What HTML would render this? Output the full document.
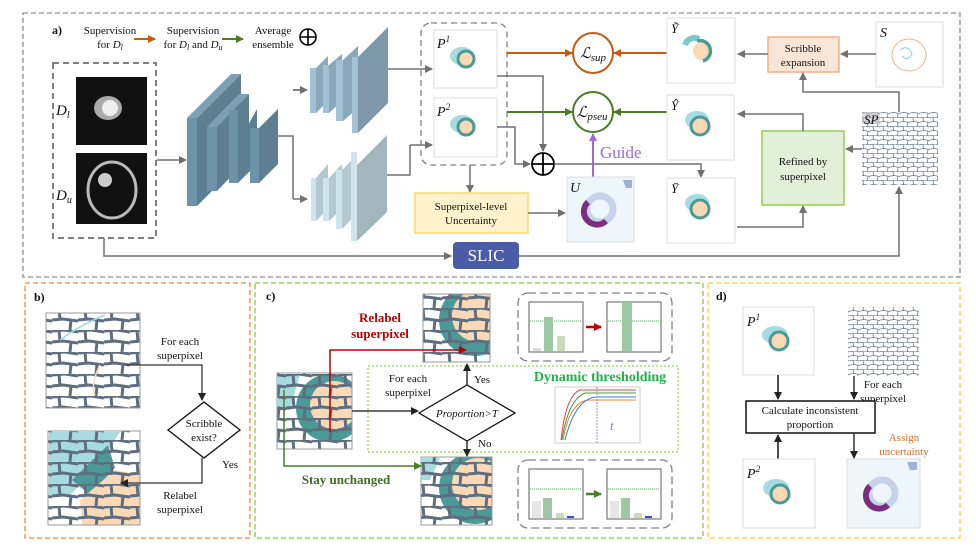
<!DOCTYPE html>
<html><head><meta charset="utf-8"><style>
html,body{margin:0;padding:0;background:#fff}
svg{display:block}
text{font-family:"Liberation Serif",serif;fill:#111}
</style></head><body>
<svg width="976" height="552" viewBox="0 0 976 552" xmlns="http://www.w3.org/2000/svg">
<defs>
<marker id="ag" markerWidth="8" markerHeight="8" refX="7" refY="4" orient="auto" markerUnits="userSpaceOnUse"><path d="M0,0 L8,4 L0,8z" fill="#707070"/></marker>
<marker id="ao" markerWidth="8" markerHeight="8" refX="7" refY="4" orient="auto" markerUnits="userSpaceOnUse"><path d="M0,0 L8,4 L0,8z" fill="#c55a11"/></marker>
<marker id="agr" markerWidth="8" markerHeight="8" refX="7" refY="4" orient="auto" markerUnits="userSpaceOnUse"><path d="M0,0 L8,4 L0,8z" fill="#4a7c2a"/></marker>
<marker id="ak" markerWidth="8" markerHeight="8" refX="7" refY="4" orient="auto" markerUnits="userSpaceOnUse"><path d="M0,0 L8,4 L0,8z" fill="#222"/></marker>
<marker id="ar" markerWidth="8" markerHeight="8" refX="7" refY="4" orient="auto" markerUnits="userSpaceOnUse"><path d="M0,0 L8,4 L0,8z" fill="#c00000"/></marker>
<marker id="ap" markerWidth="8" markerHeight="8" refX="7" refY="4" orient="auto" markerUnits="userSpaceOnUse"><path d="M0,0 L8,4 L0,8z" fill="#9b6bd1"/></marker>
<pattern id="sp" width="10" height="9" patternUnits="userSpaceOnUse">
<path d="M0,0.5 L5,0 L10,1 M0,5 L4,4.5 L10,5.5 M3,0 L3.5,5 M8,5 L7.5,9" stroke="#6a7a8a" stroke-width="0.8" fill="none"/>
</pattern>
<pattern id="spb" width="26" height="22" patternUnits="userSpaceOnUse">
<path d="M0,1 L13,0 L26,2 M0,12 L11,11 L26,13 M7,0 L8,12 M19,12 L18,22" stroke="#5f6e7e" stroke-width="3" fill="none"/>
</pattern>
<clipPath id="cb1"><rect x="48" y="431" width="92" height="94"/></clipPath>
<clipPath id="cc1"><rect x="277" y="373" width="75" height="76"/></clipPath>
<clipPath id="cc2"><rect x="423" y="294" width="67" height="68"/></clipPath>
<clipPath id="cc3"><rect x="421" y="457" width="71" height="68"/></clipPath>
</defs>

<!-- panel borders -->
<rect x="23" y="13" width="937" height="264" fill="none" stroke="#8a8a8a" stroke-width="1.3" stroke-dasharray="5,3"/>
<rect x="25" y="283" width="225" height="255" fill="none" stroke="#f08a3a" stroke-width="1.3" stroke-dasharray="5,3"/>
<rect x="255" y="283" width="448" height="255" fill="none" stroke="#8cc63f" stroke-width="1.3" stroke-dasharray="5,3"/>
<rect x="708" y="283" width="252" height="255" fill="none" stroke="#ffcc33" stroke-width="1.3" stroke-dasharray="5,3"/>

<!-- legend -->
<text x="52" y="34" font-weight="bold" font-size="12">a)</text>
<text x="110" y="34" font-size="11" text-anchor="middle">Supervision</text>
<text x="110" y="48" font-size="11" text-anchor="middle">for <tspan font-style="italic">D<tspan font-size="8" dy="2">l</tspan></tspan></text>
<line x1="134" y1="39" x2="155" y2="39" stroke="#c55a11" stroke-width="2" marker-end="url(#ao)"/>
<text x="193" y="34" font-size="11" text-anchor="middle">Supervision</text>
<text x="193" y="48" font-size="11" text-anchor="middle">for <tspan font-style="italic">D<tspan font-size="8" dy="2">l</tspan></tspan><tspan dy="-2"> and </tspan><tspan font-style="italic">D<tspan font-size="8" dy="2">u</tspan></tspan></text>
<line x1="222" y1="39" x2="243" y2="39" stroke="#4a7c2a" stroke-width="2" marker-end="url(#agr)"/>
<text x="273" y="34" font-size="11" text-anchor="middle">Average</text>
<text x="273" y="48" font-size="11" text-anchor="middle">ensemble</text>
<circle cx="308" cy="37" r="8" fill="none" stroke="#000" stroke-width="1.6"/><path d="M300,37H316M308,29V45" stroke="#000" stroke-width="1.6"/>

<!-- input -->
<rect x="53" y="63" width="103" height="175" fill="none" stroke="#808080" stroke-width="2" stroke-dasharray="6,4"/>
<rect x="76" y="77" width="71" height="68" fill="#111"/>
<ellipse cx="108" cy="108" rx="14" ry="12" fill="#aaa"/><ellipse cx="110" cy="108" rx="8" ry="8" fill="#eee"/>
<rect x="76" y="153" width="71" height="71" fill="#111"/>
<ellipse cx="112" cy="190" rx="24" ry="28" fill="none" stroke="#bbb" stroke-width="3"/><circle cx="105" cy="180" r="7" fill="#ccc"/>
<text x="56" y="115" font-size="15" font-style="italic" fill="#777">D<tspan font-size="10" dy="3">l</tspan></text>
<text x="56" y="200" font-size="15" font-style="italic" fill="#777">D<tspan font-size="10" dy="3">u</tspan></text>
<line x1="157" y1="160" x2="186" y2="160" stroke="#707070" stroke-width="1.5" marker-end="url(#ag)"/>

<!-- encoder -->
<g stroke="none">
<polygon points="197,118 241,74 241,162 197,206" fill="#5e7f92"/><polygon points="187,118 231,74 241,74 197,118" fill="#7fa0b3"/><rect x="187" y="118" width="10" height="88" fill="#6c93a8"/>
<polygon points="217,127 249,94 249,158 217,191" fill="#5e7f92"/><polygon points="207,127 239,94 249,94 217,127" fill="#7fa0b3"/><rect x="207" y="127" width="10" height="64" fill="#6c93a8"/>
<polygon points="238,143 257,109 257,164 238,183" fill="#5e7f92"/><rect x="229" y="110" width="9" height="73" fill="#6c93a8"/>
<polygon points="259,128 278,109 278,164 259,183" fill="#5e7f92"/><rect x="250" y="128" width="9" height="55" fill="#6c93a8"/>
</g>
<path d="M278,136H293V199M293,90H305" fill="none" stroke="#707070" stroke-width="1.5"/>
<line x1="293" y1="90" x2="307" y2="90" stroke="#707070" stroke-width="1.5" marker-end="url(#ag)"/>
<line x1="293" y1="199" x2="307" y2="199" stroke="#707070" stroke-width="1.5" marker-end="url(#ag)"/>

<!-- decoder upper -->
<g>
<polygon points="316,68 328,56 328,101 316,113" fill="#8aa8ba"/><rect x="310" y="68" width="6" height="45" fill="#a3c1d4"/>
<polygon points="329,65 342,54 342,101 329,113" fill="#8aa8ba"/><rect x="323" y="65" width="6" height="48" fill="#a3c1d4"/>
<polygon points="343,60 358,46 358,108 343,121" fill="#8aa8ba"/><rect x="336" y="60" width="7" height="61" fill="#a3c1d4"/>
<polygon points="358,57 388,27 388,103 358,133" fill="#7f98a9"/><rect x="352" y="57" width="6" height="76" fill="#a3c1d4"/>
</g>
<g>
<polygon points="316,178 328,164 328,209 316,221" fill="#b4c8d0"/><rect x="311" y="178" width="5" height="43" fill="#cfe4ec"/>
<polygon points="329,178 342,164 342,209 329,221" fill="#b4c8d0"/><rect x="323" y="178" width="6" height="43" fill="#cfe4ec"/>
<polygon points="342,170 356,156 356,215 342,229" fill="#b4c8d0"/><rect x="336" y="170" width="6" height="59" fill="#cfe4ec"/>
<polygon points="357,165 387,135 387,212 357,241" fill="#a3b6bd"/><rect x="351" y="152" width="6" height="89" fill="#cfe4ec"/>
</g>
<line x1="388" y1="69" x2="432" y2="69" stroke="#707070" stroke-width="1.5" marker-end="url(#ag)"/>
<path d="M387,175H410V145" fill="none" stroke="#707070" stroke-width="1.5"/>
<line x1="410" y1="145" x2="432" y2="145" stroke="#707070" stroke-width="1.5" marker-end="url(#ag)"/>

<!-- P boxes -->
<rect x="421" y="23" width="86" height="142" rx="10" fill="none" stroke="#808080" stroke-width="1.3" stroke-dasharray="6,4"/>
<rect x="434" y="30" width="63" height="58" fill="#fff" stroke="#ddd"/>
<rect x="434" y="98" width="63" height="59" fill="#fff" stroke="#ddd"/>
<g><ellipse cx="462" cy="56" rx="12" ry="9" fill="#a6dbe0"/><circle cx="466" cy="59" r="8" fill="#fcd9b6" stroke="#4a9a98" stroke-width="3"/></g>
<g><ellipse cx="462" cy="124" rx="12" ry="9" fill="#a6dbe0"/><circle cx="466" cy="127" r="8" fill="#fcd9b6" stroke="#4a9a98" stroke-width="3"/></g>
<text x="437" y="48" font-size="14" font-style="italic" fill="#888">P<tspan font-size="9" dy="-6">1</tspan></text>
<text x="437" y="116" font-size="14" font-style="italic" fill="#888">P<tspan font-size="9" dy="-6">2</tspan></text>

<!-- losses -->
<circle cx="593" cy="53" r="20" fill="#fff" stroke="#c55a11" stroke-width="2"/>
<text x="593" y="58" font-size="15" font-style="italic" text-anchor="middle">ℒ<tspan font-size="11" dy="3">sup</tspan></text>
<circle cx="593" cy="112" r="20" fill="#fff" stroke="#4a7c2a" stroke-width="2"/>
<text x="592" y="117" font-size="15" font-style="italic" text-anchor="middle">ℒ<tspan font-size="11" dy="3">pseu</tspan></text>
<line x1="507" y1="53" x2="572" y2="53" stroke="#c55a11" stroke-width="2" marker-end="url(#ao)"/>
<line x1="667" y1="53" x2="614" y2="53" stroke="#c55a11" stroke-width="2" marker-end="url(#ao)"/>
<line x1="507" y1="112" x2="572" y2="112" stroke="#4a7c2a" stroke-width="2" marker-end="url(#agr)"/>
<line x1="667" y1="112" x2="614" y2="112" stroke="#4a7c2a" stroke-width="2" marker-end="url(#agr)"/>
<path d="M497,76H543V151" fill="none" stroke="#707070" stroke-width="1.5" marker-end="url(#ag)"/>
<path d="M497,127H515V164H530" fill="none" stroke="#707070" stroke-width="1.5" marker-end="url(#ag)"/>
<circle cx="543" cy="164" r="11" fill="#fff" stroke="#000" stroke-width="1.8"/><path d="M532,164H554M543,153V175" stroke="#000" stroke-width="1.8"/>
<path d="M554,164H701V177" fill="none" stroke="#707070" stroke-width="1.5" marker-end="url(#ag)"/>
<line x1="593" y1="177" x2="593" y2="134" stroke="#9b6bd1" stroke-width="2" marker-end="url(#ap)"/>
<text x="600" y="158" font-size="17" style="fill:#9b6bd1">Guide</text>

<!-- uncertainty -->
<line x1="470" y1="165" x2="470" y2="192" stroke="#707070" stroke-width="1.5" marker-end="url(#ag)"/>
<rect x="415" y="193" width="113" height="40" fill="#fff2cc" stroke="#ffd966" stroke-width="1.5"/>
<text x="471" y="210" font-size="11" text-anchor="middle">Superpixel-level</text>
<text x="471" y="224" font-size="11" text-anchor="middle">Uncertainty</text>
<line x1="528" y1="213" x2="565" y2="213" stroke="#707070" stroke-width="1.5" marker-end="url(#ag)"/>
<rect x="567" y="177" width="67" height="65" fill="#eef6fa" stroke="#ddd"/>
<circle cx="600" cy="209" r="13" fill="none" stroke="#c7d3e8" stroke-width="7"/>
<path d="M588,202 A13,13 0 0,0 606,221" fill="none" stroke="#7b2d80" stroke-width="6"/>
<path d="M623,180 h9 v8 h-6z" fill="#9fb1d4"/>
<text x="570" y="192" font-size="14" font-style="italic" fill="#888">U</text>

<!-- Y boxes -->
<rect x="667" y="18" width="68" height="65" fill="#fff" stroke="#ddd"/>
<path d="M685,45 a10,10 0 0,1 14,-6" stroke="#7cc7d0" stroke-width="6" fill="none"/><circle cx="702" cy="51" r="9" fill="#fcd9b6"/><path d="M697,41 a10,10 0 0,1 6,20" stroke="#4a9a98" stroke-width="3.5" fill="none"/>
<text x="671" y="33" font-size="13" font-style="italic" fill="#888">Ỹ</text>
<rect x="667" y="95" width="67" height="65" fill="#fff" stroke="#ddd"/>
<ellipse cx="697" cy="120" rx="12" ry="9" fill="#a6dbe0"/><circle cx="700" cy="126" r="9" fill="#fcd9b6" stroke="#4a9a98" stroke-width="3"/>
<text x="671" y="110" font-size="13" font-style="italic" fill="#888">Ŷ</text>
<rect x="667" y="178" width="68" height="65" fill="#fff" stroke="#ddd"/>
<ellipse cx="697" cy="203" rx="12" ry="9" fill="#a6dbe0"/><circle cx="700" cy="209" r="9" fill="#fcd9b6" stroke="#4a9a98" stroke-width="3"/>
<text x="671" y="193" font-size="13" font-style="italic" fill="#888">Ȳ</text>

<!-- refined -->
<rect x="762" y="131" width="82" height="74" fill="#e2efd9" stroke="#92d050" stroke-width="1.5"/>
<text x="803" y="165" font-size="11" text-anchor="middle">Refined by</text>
<text x="803" y="180" font-size="11" text-anchor="middle">superpixel</text>
<path d="M737,227H803V206" fill="none" stroke="#707070" stroke-width="1.5" marker-end="url(#ag)"/>
<path d="M803,131V114H738" fill="none" stroke="#707070" stroke-width="1.5" marker-end="url(#ag)"/>
<rect x="862" y="112" width="76" height="73" fill="#fff"/><rect x="862" y="112" width="76" height="73" fill="url(#sp)"/>
<rect x="862" y="112" width="18" height="12" fill="#bbb" opacity=".6"/>
<text x="864" y="124" font-size="13" font-style="italic" fill="#777">SP</text>
<line x1="862" y1="149" x2="846" y2="149" stroke="#707070" stroke-width="1.5" marker-end="url(#ag)"/>
<path d="M899,112V92H803V73" fill="none" stroke="#707070" stroke-width="1.5" marker-end="url(#ag)"/>
<rect x="768" y="37" width="71" height="35" fill="#fbe5d6" stroke="#f4b183" stroke-width="1.5"/>
<text x="803" y="52" font-size="11" text-anchor="middle">Scribble</text>
<text x="803" y="66" font-size="11" text-anchor="middle">expansion</text>
<rect x="876" y="22" width="67" height="65" fill="#fff" stroke="#ddd"/>
<ellipse cx="909" cy="55" rx="17" ry="16" fill="none" stroke="#f4b183" stroke-width="1"/>
<path d="M900,50 q8,-6 12,4 q-4,8 -10,2" fill="none" stroke="#8fcfd6" stroke-width="1"/>
<text x="880" y="37" font-size="14" font-style="italic" fill="#888">S</text>
<line x1="876" y1="54" x2="841" y2="54" stroke="#707070" stroke-width="1.5" marker-end="url(#ag)"/>
<line x1="768" y1="54" x2="738" y2="54" stroke="#707070" stroke-width="1.5" marker-end="url(#ag)"/>

<!-- SLIC -->
<path d="M104,238V256H451" fill="none" stroke="#707070" stroke-width="1.5" marker-end="url(#ag)"/>
<rect x="453" y="242" width="66" height="27" rx="4" fill="#4a5ca8"/>
<text x="486" y="261" font-size="17" text-anchor="middle" style="fill:#fff">SLIC</text>
<path d="M519,256H899V187" fill="none" stroke="#707070" stroke-width="1.5" marker-end="url(#ag)"/>

<!-- panel b -->
<text x="34" y="301" font-weight="bold" font-size="12">b)</text>
<rect x="46" y="313" width="94" height="95" fill="#fff"/>
<rect x="46" y="313" width="94" height="95" fill="url(#spb)"/>
<rect x="46" y="313" width="94" height="95" fill="none" stroke="#999"/>
<path d="M60,340 q20,-15 45,-25" stroke="#9fd8de" stroke-width="1.5" fill="none"/>
<path d="M100,365 q-10,20 -5,30" stroke="#fcd9b6" stroke-width="1.5" fill="none"/>
<g clip-path="url(#cb1)">
<rect x="48" y="431" width="92" height="94" fill="#fff"/>
<path d="M49,432 H120 L95,470 L70,495 H49z" fill="#a6dbe0"/>
<path d="M72,480 L108,445 L115,468 L90,495z" fill="#4a9a98"/>
<path d="M80,500 L115,470 L140,475 V525 H82z" fill="#fcd9b6"/>
<rect x="48" y="431" width="92" height="94" fill="url(#spb)"/>
</g>
<rect x="48" y="431" width="92" height="94" fill="none" stroke="#999"/>
<text x="180" y="345" font-size="11" text-anchor="middle">For each</text>
<text x="180" y="359" font-size="11" text-anchor="middle">superpixel</text>
<path d="M127,365H202V400" fill="none" stroke="#333" stroke-width="1.3" marker-end="url(#ak)"/>
<polygon points="168,430 204,402 240,430 204,458" fill="#fff" stroke="#111" stroke-width="1.3"/>
<text x="204" y="427" font-size="11" text-anchor="middle">Scribble</text>
<text x="204" y="441" font-size="11" text-anchor="middle">exist?</text>
<text x="222" y="468" font-size="11">Yes</text>
<path d="M202,458V483H121" fill="none" stroke="#333" stroke-width="1.3" marker-end="url(#ak)"/>
<text x="180" y="499" font-size="11" text-anchor="middle">Relabel</text>
<text x="180" y="513" font-size="11" text-anchor="middle">superpixel</text>

<!-- panel c -->
<text x="266" y="300" font-weight="bold" font-size="12">c)</text>
<rect x="368" y="366" width="310" height="86" fill="none" stroke="#92d050" stroke-width="1.2" stroke-dasharray="2,2"/>
<g clip-path="url(#cc1)">
<rect x="277" y="373" width="75" height="76" fill="#fff"/>
<path d="M278,374 H300 L290,410 H278z" fill="#a6dbe0"/>
<circle cx="330" cy="408" r="34" fill="#4a9a98"/><circle cx="334" cy="405" r="24" fill="#fcd9b6"/>
<rect x="277" y="373" width="75" height="76" fill="url(#spb)"/>
</g>
<rect x="277" y="373" width="75" height="76" fill="none" stroke="#999"/>
<g clip-path="url(#cc2)">
<rect x="423" y="294" width="67" height="68" fill="#fff"/>
<circle cx="475" cy="320" r="36" fill="#4a9a98"/><circle cx="478" cy="316" r="26" fill="#fcd9b6"/>
<rect x="423" y="294" width="67" height="68" fill="url(#spb)"/>
</g>
<rect x="423" y="294" width="67" height="68" fill="none" stroke="#999"/>
<g clip-path="url(#cc3)">
<rect x="421" y="457" width="71" height="68" fill="#fff"/>
<path d="M422,458 H440 L430,480 H422z" fill="#a6dbe0"/>
<circle cx="475" cy="488" r="36" fill="#4a9a98"/><circle cx="478" cy="484" r="26" fill="#fcd9b6"/>
<rect x="421" y="457" width="71" height="68" fill="url(#spb)"/>
</g>
<rect x="421" y="457" width="71" height="68" fill="none" stroke="#999"/>
<path d="M330,432V350H466" fill="none" stroke="#c00000" stroke-width="1.5" marker-end="url(#ar)"/>
<text x="380" y="322" font-size="13" font-weight="bold" text-anchor="middle" style="fill:#c00000">Relabel</text>
<text x="380" y="338" font-size="13" font-weight="bold" text-anchor="middle" style="fill:#c00000">superpixel</text>
<path d="M284,390V466H421" fill="none" stroke="#4a7c2a" stroke-width="1.5" marker-end="url(#agr)"/>
<text x="346" y="484" font-size="13" font-weight="bold" text-anchor="middle" style="fill:#3f6b25">Stay unchanged</text>
<line x1="352" y1="411" x2="418" y2="411" stroke="#111" stroke-width="1.3" marker-end="url(#ak)"/>
<polygon points="419,413 467,385 515,413 467,441" fill="#fff" stroke="#111" stroke-width="1.3"/>
<text x="467" y="417" font-size="11" font-style="italic" text-anchor="middle">Proportion&gt;T</text>
<line x1="467" y1="385" x2="467" y2="364" stroke="#111" stroke-width="1.3" marker-end="url(#ak)"/>
<line x1="467" y1="441" x2="467" y2="456" stroke="#111" stroke-width="1.3" marker-end="url(#ak)"/>
<text x="474" y="383" font-size="11">Yes</text>
<text x="478" y="447" font-size="11">No</text>
<text x="408" y="382" font-size="11" text-anchor="middle">For each</text>
<text x="408" y="396" font-size="11" text-anchor="middle">superpixel</text>
<text x="600" y="381" font-size="14" font-weight="bold" text-anchor="middle" style="fill:#22b04b">Dynamic thresholding</text>
<g>
<rect x="555" y="387" width="85" height="56" fill="#fff" stroke="#ccc"/>
<path d="M561,440 Q566,395 580,390 H636" fill="none" stroke="#e04040" stroke-width="1"/>
<path d="M562,440 Q568,400 585,393 H636" fill="none" stroke="#40a040" stroke-width="1"/>
<path d="M563,440 Q570,400 590,400 H636" fill="none" stroke="#f08030" stroke-width="1"/>
<path d="M565,440 Q575,400 595,397 H636" fill="none" stroke="#3080d0" stroke-width="1"/>
<line x1="597" y1="387" x2="597" y2="443" stroke="#b080e0" stroke-dasharray="2,1"/>
<text x="610" y="430" font-size="13" font-style="italic" style="fill:#9b6bd1">t</text>
</g>
<rect x="518" y="293" width="154" height="68" rx="10" fill="none" stroke="#808080" stroke-width="1.3" stroke-dasharray="8,4"/>
<rect x="529" y="302" width="54" height="50" fill="#fff" stroke="#777" stroke-width="1.2"/>
<rect x="607" y="302" width="54" height="50" fill="#fff" stroke="#777" stroke-width="1.2"/>
<line x1="530" y1="321" x2="582" y2="321" stroke="#5a5" stroke-dasharray="1,1"/><line x1="608" y1="321" x2="660" y2="321" stroke="#5a5" stroke-dasharray="1,1"/>
<rect x="533" y="348" width="8" height="3" fill="#ddd"/><rect x="544" y="317" width="9" height="34" fill="#9cc9a3"/><rect x="557" y="336" width="8" height="15" fill="#c7ddb5"/>
<rect x="622" y="302" width="10" height="49" fill="#9cc9a3"/>
<line x1="586" y1="327" x2="601" y2="327" stroke="#c00000" stroke-width="2.5" marker-end="url(#ar)"/>
<rect x="518" y="460" width="154" height="68" rx="10" fill="none" stroke="#808080" stroke-width="1.3" stroke-dasharray="8,4"/>
<rect x="529" y="469" width="54" height="50" fill="#fff" stroke="#777" stroke-width="1.2"/>
<rect x="607" y="469" width="54" height="50" fill="#fff" stroke="#777" stroke-width="1.2"/>
<line x1="530" y1="489" x2="582" y2="489" stroke="#5a5" stroke-dasharray="1,1"/><line x1="608" y1="489" x2="660" y2="489" stroke="#5a5" stroke-dasharray="1,1"/>
<rect x="532" y="501" width="9" height="17" fill="#e6e6e6"/><rect x="543" y="498" width="9" height="20" fill="#9cc9a3"/><rect x="556" y="513" width="8" height="5" fill="#c7ddb5"/><rect x="567" y="516" width="7" height="2" fill="#3050c0"/>
<rect x="610" y="501" width="9" height="17" fill="#e6e6e6"/><rect x="621" y="498" width="9" height="20" fill="#9cc9a3"/><rect x="634" y="513" width="8" height="5" fill="#c7ddb5"/><rect x="645" y="516" width="7" height="2" fill="#3050c0"/>
<line x1="586" y1="494" x2="601" y2="494" stroke="#4a7c2a" stroke-width="2.5" marker-end="url(#agr)"/>

<!-- panel d -->
<text x="716" y="300" font-weight="bold" font-size="12">d)</text>
<rect x="743" y="307" width="71" height="68" fill="#fff" stroke="#ddd"/>
<ellipse cx="775" cy="335" rx="13" ry="9" fill="#a6dbe0"/><circle cx="779" cy="341" r="9" fill="#fcd9b6" stroke="#4a9a98" stroke-width="3"/>
<text x="747" y="326" font-size="14" font-style="italic" fill="#888">P<tspan font-size="9" dy="-6">1</tspan></text>
<rect x="848" y="307" width="71" height="69" fill="#fff"/><rect x="848" y="307" width="71" height="69" fill="url(#sp)"/>
<text x="883" y="388" font-size="11" text-anchor="middle">For each</text>
<text x="883" y="402" font-size="11" text-anchor="middle">superpixel</text>
<rect x="746" y="401" width="129" height="32" fill="#fff" stroke="#111" stroke-width="1.5"/>
<text x="810" y="414" font-size="11" text-anchor="middle">Calculate inconsistent</text>
<text x="810" y="428" font-size="11" text-anchor="middle">proportion</text>
<line x1="778" y1="375" x2="778" y2="399" stroke="#111" stroke-width="1.5" marker-end="url(#ak)"/>
<line x1="854" y1="376" x2="854" y2="399" stroke="#333" stroke-width="1.5" marker-end="url(#ak)"/>
<line x1="778" y1="459" x2="778" y2="435" stroke="#111" stroke-width="1.5" marker-end="url(#ak)"/>
<line x1="854" y1="433" x2="854" y2="458" stroke="#333" stroke-width="1.5" marker-end="url(#ak)"/>
<text x="904" y="441" font-size="11" text-anchor="middle" style="fill:#d0702a">Assign</text>
<text x="904" y="455" font-size="11" text-anchor="middle" style="fill:#d0702a">uncertainty</text>
<rect x="743" y="459" width="72" height="69" fill="#fff" stroke="#ddd"/>
<ellipse cx="776" cy="488" rx="13" ry="9" fill="#a6dbe0"/><circle cx="780" cy="494" r="9" fill="#fcd9b6" stroke="#4a9a98" stroke-width="3"/>
<text x="747" y="478" font-size="14" font-style="italic" fill="#888">P<tspan font-size="9" dy="-6">2</tspan></text>
<rect x="847" y="459" width="73" height="69" fill="#eef6fa" stroke="#ddd"/>
<circle cx="882" cy="493" r="13" fill="none" stroke="#c7d3e8" stroke-width="7"/>
<path d="M870,486 A13,13 0 0,0 888,505" fill="none" stroke="#7b2d80" stroke-width="6"/>
<path d="M907,462 h10 v8 h-7z" fill="#9fb1d4"/>
</svg>
</body></html>
